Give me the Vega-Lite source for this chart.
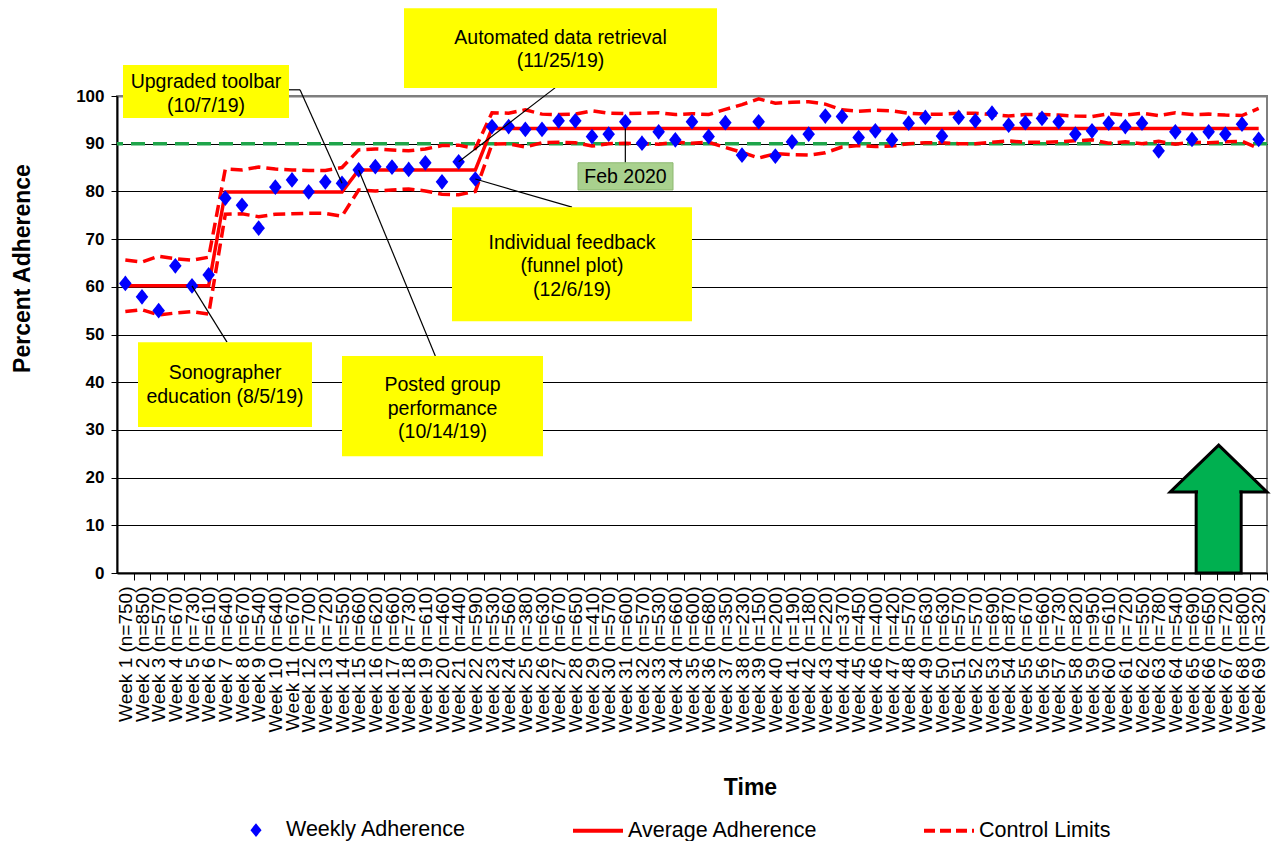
{
  "$schema": "https://vega.github.io/schema/vega-lite/v6.json",
  "width": 1150,
  "height": 477,
  "autosize": {"type": "none"},
  "padding": {"left": 117, "top": 96, "right": 4, "bottom": 268},
  "background": "white",
  "config": {
    "font": "Liberation Sans",
    "view": {"stroke": "#7f7f7f", "strokeWidth": 2}
  },
  "datasets": {
    "weeks": [
      {"week": 1, "n": 750, "adh": 60.7, "avg": 60.2, "ucl": 65.6, "lcl": 54.8},
      {"week": 2, "n": 850, "adh": 57.9, "avg": 60.2, "ucl": 65.2, "lcl": 55.2},
      {"week": 3, "n": 570, "adh": 55.0, "avg": 60.2, "ucl": 66.4, "lcl": 54.1},
      {"week": 4, "n": 670, "adh": 64.4, "avg": 60.2, "ucl": 65.9, "lcl": 54.5},
      {"week": 5, "n": 730, "adh": 60.2, "avg": 60.2, "ucl": 65.6, "lcl": 54.8},
      {"week": 6, "n": 610, "adh": 62.5, "avg": 60.2, "ucl": 66.2, "lcl": 54.3},
      {"week": 7, "n": 640, "adh": 78.6, "avg": 79.9, "ucl": 84.7, "lcl": 75.2},
      {"week": 8, "n": 670, "adh": 77.1, "avg": 79.9, "ucl": 84.5, "lcl": 75.3},
      {"week": 9, "n": 540, "adh": 72.3, "avg": 79.9, "ucl": 85.1, "lcl": 74.7},
      {"week": 10, "n": 640, "adh": 80.9, "avg": 79.9, "ucl": 84.7, "lcl": 75.2},
      {"week": 11, "n": 670, "adh": 82.4, "avg": 79.9, "ucl": 84.5, "lcl": 75.3},
      {"week": 12, "n": 700, "adh": 79.9, "avg": 79.9, "ucl": 84.4, "lcl": 75.4},
      {"week": 13, "n": 720, "adh": 82.0, "avg": 79.9, "ucl": 84.4, "lcl": 75.4},
      {"week": 14, "n": 550, "adh": 81.7, "avg": 79.9, "ucl": 85.0, "lcl": 74.8},
      {"week": 15, "n": 660, "adh": 84.5, "avg": 84.5, "ucl": 88.7, "lcl": 80.3},
      {"week": 16, "n": 620, "adh": 85.2, "avg": 84.5, "ucl": 88.9, "lcl": 80.1},
      {"week": 17, "n": 660, "adh": 85.1, "avg": 84.5, "ucl": 88.7, "lcl": 80.3},
      {"week": 18, "n": 730, "adh": 84.6, "avg": 84.5, "ucl": 88.5, "lcl": 80.5},
      {"week": 19, "n": 610, "adh": 86.0, "avg": 84.5, "ucl": 88.9, "lcl": 80.1},
      {"week": 20, "n": 460, "adh": 82.0, "avg": 84.5, "ucl": 89.6, "lcl": 79.4},
      {"week": 21, "n": 440, "adh": 86.2, "avg": 84.5, "ucl": 89.7, "lcl": 79.3},
      {"week": 22, "n": 590, "adh": 82.6, "avg": 84.5, "ucl": 89.0, "lcl": 80.0},
      {"week": 23, "n": 530, "adh": 93.6, "avg": 93.2, "ucl": 96.5, "lcl": 89.9},
      {"week": 24, "n": 560, "adh": 93.6, "avg": 93.2, "ucl": 96.4, "lcl": 90.0},
      {"week": 25, "n": 380, "adh": 93.0, "avg": 93.2, "ucl": 97.1, "lcl": 89.3},
      {"week": 26, "n": 630, "adh": 93.0, "avg": 93.2, "ucl": 96.2, "lcl": 90.2},
      {"week": 27, "n": 670, "adh": 94.8, "avg": 93.2, "ucl": 96.1, "lcl": 90.3},
      {"week": 28, "n": 650, "adh": 94.8, "avg": 93.2, "ucl": 96.2, "lcl": 90.2},
      {"week": 29, "n": 410, "adh": 91.5, "avg": 93.2, "ucl": 96.9, "lcl": 89.5},
      {"week": 30, "n": 570, "adh": 92.0, "avg": 93.2, "ucl": 96.4, "lcl": 90.0},
      {"week": 31, "n": 600, "adh": 94.6, "avg": 93.2, "ucl": 96.3, "lcl": 90.1},
      {"week": 32, "n": 570, "adh": 90.1, "avg": 93.2, "ucl": 96.4, "lcl": 90.0},
      {"week": 33, "n": 530, "adh": 92.5, "avg": 93.2, "ucl": 96.5, "lcl": 89.9},
      {"week": 34, "n": 660, "adh": 90.8, "avg": 93.2, "ucl": 96.1, "lcl": 90.3},
      {"week": 35, "n": 600, "adh": 94.6, "avg": 93.2, "ucl": 96.3, "lcl": 90.1},
      {"week": 36, "n": 680, "adh": 91.5, "avg": 93.2, "ucl": 96.1, "lcl": 90.3},
      {"week": 37, "n": 350, "adh": 94.4, "avg": 93.2, "ucl": 97.2, "lcl": 89.2},
      {"week": 38, "n": 230, "adh": 87.6, "avg": 93.2, "ucl": 98.2, "lcl": 88.2},
      {"week": 39, "n": 150, "adh": 94.6, "avg": 93.2, "ucl": 99.4, "lcl": 87.0},
      {"week": 40, "n": 200, "adh": 87.4, "avg": 93.2, "ucl": 98.5, "lcl": 87.9},
      {"week": 41, "n": 190, "adh": 90.4, "avg": 93.2, "ucl": 98.7, "lcl": 87.7},
      {"week": 42, "n": 180, "adh": 92.0, "avg": 93.2, "ucl": 98.8, "lcl": 87.6},
      {"week": 43, "n": 220, "adh": 95.8, "avg": 93.2, "ucl": 98.3, "lcl": 88.1},
      {"week": 44, "n": 370, "adh": 95.7, "avg": 93.2, "ucl": 97.1, "lcl": 89.3},
      {"week": 45, "n": 450, "adh": 91.3, "avg": 93.2, "ucl": 96.8, "lcl": 89.6},
      {"week": 46, "n": 400, "adh": 92.7, "avg": 93.2, "ucl": 97.0, "lcl": 89.4},
      {"week": 47, "n": 420, "adh": 90.8, "avg": 93.2, "ucl": 96.9, "lcl": 89.5},
      {"week": 48, "n": 570, "adh": 94.3, "avg": 93.2, "ucl": 96.4, "lcl": 90.0},
      {"week": 49, "n": 630, "adh": 95.5, "avg": 93.2, "ucl": 96.2, "lcl": 90.2},
      {"week": 50, "n": 630, "adh": 91.6, "avg": 93.2, "ucl": 96.2, "lcl": 90.2},
      {"week": 51, "n": 570, "adh": 95.5, "avg": 93.2, "ucl": 96.4, "lcl": 90.0},
      {"week": 52, "n": 570, "adh": 94.8, "avg": 93.2, "ucl": 96.4, "lcl": 90.0},
      {"week": 53, "n": 690, "adh": 96.4, "avg": 93.2, "ucl": 96.1, "lcl": 90.3},
      {"week": 54, "n": 870, "adh": 93.9, "avg": 93.2, "ucl": 95.8, "lcl": 90.6},
      {"week": 55, "n": 670, "adh": 94.4, "avg": 93.2, "ucl": 96.1, "lcl": 90.3},
      {"week": 56, "n": 660, "adh": 95.3, "avg": 93.2, "ucl": 96.1, "lcl": 90.3},
      {"week": 57, "n": 730, "adh": 94.6, "avg": 93.2, "ucl": 96.0, "lcl": 90.4},
      {"week": 58, "n": 820, "adh": 92.0, "avg": 93.2, "ucl": 95.8, "lcl": 90.6},
      {"week": 59, "n": 950, "adh": 92.7, "avg": 93.2, "ucl": 95.7, "lcl": 90.8},
      {"week": 60, "n": 610, "adh": 94.3, "avg": 93.2, "ucl": 96.3, "lcl": 90.1},
      {"week": 61, "n": 720, "adh": 93.6, "avg": 93.2, "ucl": 96.0, "lcl": 90.4},
      {"week": 62, "n": 550, "adh": 94.3, "avg": 93.2, "ucl": 96.4, "lcl": 90.0},
      {"week": 63, "n": 780, "adh": 88.5, "avg": 93.2, "ucl": 95.9, "lcl": 90.5},
      {"week": 64, "n": 540, "adh": 92.5, "avg": 93.2, "ucl": 96.5, "lcl": 89.9},
      {"week": 65, "n": 690, "adh": 90.9, "avg": 93.2, "ucl": 96.1, "lcl": 90.3},
      {"week": 66, "n": 650, "adh": 92.5, "avg": 93.2, "ucl": 96.2, "lcl": 90.2},
      {"week": 67, "n": 720, "adh": 92.0, "avg": 93.2, "ucl": 96.0, "lcl": 90.4},
      {"week": 68, "n": 800, "adh": 94.1, "avg": 93.2, "ucl": 95.9, "lcl": 90.5},
      {"week": 69, "n": 320, "adh": 90.9, "avg": 93.2, "ucl": 97.4, "lcl": 89.0}
    ],
    "boxes": [
      {"name": "Upgraded", "bx1": 0.86, "bx2": 10.82, "by1": 95.4, "by2": 106.5},
      {"name": "Automated", "bx1": 17.72, "bx2": 36.5, "by1": 101.7, "by2": 118.4},
      {"name": "Individual", "bx1": 20.6, "bx2": 35.0, "by1": 52.8, "by2": 76.7},
      {"name": "Sonographer", "bx1": 1.76, "bx2": 12.2, "by1": 30.6, "by2": 48.4},
      {"name": "Posted", "bx1": 14.0, "bx2": 26.06, "by1": 24.5, "by2": 45.5}
    ],
    "febbox": [
      {"name": "Feb", "bx1": 28.16, "bx2": 33.86, "by1": 80.3, "by2": 86.0}
    ],
    "labels": [
      {"tx": 5.84, "ty": 102.9, "label": "Upgraded  toolbar\n(10/7/19)"},
      {"tx": 27.11, "ty": 112.2, "label": "Automated data retrieval\n(11/25/19)"},
      {"tx": 27.8, "ty": 69.2, "label": "Individual  feedback\n(funnel plot)\n(12/6/19)"},
      {"tx": 6.98, "ty": 41.9, "label": "Sonographer\neducation  (8/5/19)"},
      {"tx": 20.03, "ty": 39.4, "label": "Posted group\nperformance\n(10/14/19)"},
      {"tx": 31.01, "ty": 83.1, "label": "Feb 2020"}
    ],
    "callouts": [
      {"x1": 7.1, "y1": 48.4, "x2": 5.0, "y2": 60.2},
      {"x1": 10.82, "y1": 101.3, "x2": 11.48, "y2": 101.3},
      {"x1": 11.48, "y1": 101.3, "x2": 14.0, "y2": 81.7},
      {"x1": 19.6, "y1": 45.5, "x2": 15.0, "y2": 84.5},
      {"x1": 26.78, "y1": 101.7, "x2": 21.0, "y2": 86.2},
      {"x1": 27.8, "y1": 76.7, "x2": 22.0, "y2": 82.6},
      {"x1": 31.0, "y1": 86.0, "x2": 31.0, "y2": 93.2}
    ],
    "arrowhead": [
      {"ax": 63.7, "top": 17.0, "bottom": 17.0},
      {"ax": 66.6, "top": 26.8, "bottom": 17.0},
      {"ax": 69.5, "top": 17.0, "bottom": 17.0}
    ],
    "shaft": [
      {"sx1": 65.25, "sx2": 67.95, "sy1": 0.0, "sy2": 17.0}
    ],
    "shaftjoin": [
      {"sx1": 65.36, "sx2": 67.84, "sy1": 16.3, "sy2": 17.5}
    ]
  },
  "layer": [
    {
      "data": {"values": [{"target": 90}]},
      "mark": {"type": "rule", "color": "#1fa54a", "strokeWidth": 3.5, "strokeDash": [14, 8]},
      "encoding": {
        "y": {
          "field": "target", "type": "quantitative",
          "scale": {"domain": [0, 100], "nice": false},
          "axis": {
            "values": [0, 10, 20, 30, 40, 50, 60, 70, 80, 90, 100],
            "labelFontSize": 17, "labelFontWeight": "bold", "labelColor": "black", "labelPadding": 7,
            "tickSize": 6, "tickColor": "black", "tickWidth": 1,
            "domainColor": "black", "domainWidth": 2,
            "grid": true,
            "gridColor": {"condition": {"test": "datum.value === 100", "value": "#7f7f7f"}, "value": "black"},
            "gridWidth": {"condition": {"test": "datum.value === 100", "value": 2}, "value": 1},
            "title": "Percent Adherence", "titleFontSize": 23, "titleFontWeight": "bold", "titleColor": "black",
            "titleAngle": 270, "titleX": -95, "titleY": 172, "titleAlign": "center", "titleBaseline": "middle"
          }
        }
      }
    },
    {
      "data": {"name": "weeks"},
      "mark": {"type": "line", "color": "#ff0000", "strokeWidth": 3.5, "strokeDash": [12, 6]},
      "encoding": {
        "x": {
          "field": "week", "type": "quantitative",
          "scale": {"domain": [0.5, 69.5], "nice": false, "zero": false},
          "axis": {
            "values": [1,2,3,4,5,6,7,8,9,10,11,12,13,14,15,16,17,18,19,20,21,22,23,24,25,26,27,28,29,30,31,32,33,34,35,36,37,38,39,40,41,42,43,44,45,46,47,48,49,50,51,52,53,54,55,56,57,58,59,60,61,62,63,64,65,66,67,68,69],
            "tickCount": 500,
            "labelExpr": "'Week ' + datum.value + ' (n=' + [750,850,570,670,730,610,640,670,540,640,670,700,720,550,660,620,660,730,610,460,440,590,530,560,380,630,670,650,410,570,600,570,530,660,600,680,350,230,150,200,190,180,220,370,450,400,420,570,630,630,570,570,690,870,670,660,730,820,950,610,720,550,780,540,690,650,720,800,320][datum.value - 1] + ')'",
            "labelAngle": 270, "labelAlign": "right", "labelBaseline": "middle",
            "labelFontSize": 19, "labelColor": "black", "labelPadding": 6,
            "labelOverlap": false, "labelFlush": false,
            "tickOffset": 8.33, "labelOffset": -8.33,
            "tickSize": 7, "tickColor": "black", "tickWidth": 1,
            "domainColor": "black", "domainWidth": 2,
            "grid": false,
            "title": "Time", "titleFontSize": 23, "titleFontWeight": "bold", "titleColor": "black",
            "titleX": 633, "titleY": 214, "titleAlign": "center", "titleBaseline": "middle"
          }
        },
        "y": {"field": "ucl", "type": "quantitative", "scale": {"domain": [0, 100], "nice": false}}
      }
    },
    {
      "data": {"name": "weeks"},
      "mark": {"type": "line", "color": "#ff0000", "strokeWidth": 3.5, "strokeDash": [12, 6]},
      "encoding": {
        "x": {"field": "week", "type": "quantitative", "scale": {"domain": [0.5, 69.5], "nice": false, "zero": false}},
        "y": {"field": "lcl", "type": "quantitative", "scale": {"domain": [0, 100], "nice": false}}
      }
    },
    {
      "data": {"name": "weeks"},
      "mark": {"type": "line", "color": "#ff0000", "strokeWidth": 3.5},
      "encoding": {
        "x": {"field": "week", "type": "quantitative", "scale": {"domain": [0.5, 69.5], "nice": false, "zero": false}},
        "y": {"field": "avg", "type": "quantitative", "scale": {"domain": [0, 100], "nice": false}}
      }
    },
    {
      "data": {"name": "weeks"},
      "mark": {"type": "point", "filled": false, "fill": "#0000ff", "fillOpacity": 1, "size": 6950, "opacity": 1},
      "encoding": {
        "x": {"field": "week", "type": "quantitative", "scale": {"domain": [0.5, 69.5], "nice": false, "zero": false}},
        "y": {"field": "adh", "type": "quantitative", "scale": {"domain": [0, 100], "nice": false}},
        "color": {
          "datum": "Weekly Adherence",
          "scale": {"domain": ["Weekly Adherence", "Average Adherence", "Control Limits"], "range": ["#0000ff", "#ff0000", "#ff0000"]},
          "legend": {
            "orient": "none", "legendX": 112, "legendY": 707,
            "direction": "horizontal", "title": null,
            "columnPadding": 98,
            "symbolSize": 2500, "symbolStrokeWidth": 4,
            "labelFontSize": 21.5, "labelColor": "black", "labelOffset": 3, "labelLimit": 400
          }
        },
        "shape": {
          "datum": "Weekly Adherence",
          "scale": {"domain": ["Weekly Adherence", "Average Adherence", "Control Limits"], "range": ["M0,-0.15L0.12,0L0,0.15L-0.12,0Z", "M-1,0H1", "M-1,0H1"]}
        },
        "strokeDash": {
          "datum": "Weekly Adherence",
          "scale": {"domain": ["Weekly Adherence", "Average Adherence", "Control Limits"], "range": [[1, 0], [1, 0], [11, 5]]}
        }
      }
    },
    {
      "data": {"name": "callouts"},
      "mark": {"type": "rule", "color": "black", "strokeWidth": 1.2},
      "encoding": {
        "x": {"field": "x1", "type": "quantitative", "scale": {"domain": [0.5, 69.5], "nice": false, "zero": false}},
        "x2": {"field": "x2"},
        "y": {"field": "y1", "type": "quantitative", "scale": {"domain": [0, 100], "nice": false}},
        "y2": {"field": "y2"}
      }
    },
    {
      "data": {"name": "boxes"},
      "mark": {"type": "rect", "fill": "#ffff00"},
      "encoding": {
        "x": {"field": "bx1", "type": "quantitative", "scale": {"domain": [0.5, 69.5], "nice": false, "zero": false}},
        "x2": {"field": "bx2"},
        "y": {"field": "by1", "type": "quantitative", "scale": {"domain": [0, 100], "nice": false}},
        "y2": {"field": "by2"}
      }
    },
    {
      "data": {"name": "febbox"},
      "mark": {"type": "rect", "fill": "#a9d18e", "stroke": "#8db870", "strokeWidth": 1},
      "encoding": {
        "x": {"field": "bx1", "type": "quantitative", "scale": {"domain": [0.5, 69.5], "nice": false, "zero": false}},
        "x2": {"field": "bx2"},
        "y": {"field": "by1", "type": "quantitative", "scale": {"domain": [0, 100], "nice": false}},
        "y2": {"field": "by2"}
      }
    },
    {
      "data": {"name": "labels"},
      "mark": {"type": "text", "fontSize": 19.5, "lineHeight": 23.5, "lineBreak": "\n", "align": "center", "baseline": "middle", "color": "black"},
      "encoding": {
        "x": {"field": "tx", "type": "quantitative", "scale": {"domain": [0.5, 69.5], "nice": false, "zero": false}},
        "y": {"field": "ty", "type": "quantitative", "scale": {"domain": [0, 100], "nice": false}},
        "text": {"field": "label"}
      }
    },
    {
      "data": {"name": "arrowhead"},
      "mark": {"type": "area", "fill": "#00b050", "stroke": "black", "strokeWidth": 3, "strokeJoin": "miter", "interpolate": "linear", "opacity": 1},
      "encoding": {
        "x": {"field": "ax", "type": "quantitative", "scale": {"domain": [0.5, 69.5], "nice": false, "zero": false}},
        "y": {"field": "top", "type": "quantitative", "scale": {"domain": [0, 100], "nice": false}, "stack": null},
        "y2": {"field": "bottom"}
      }
    },
    {
      "data": {"name": "shaft"},
      "mark": {"type": "rect", "fill": "#00b050", "stroke": "black", "strokeWidth": 3},
      "encoding": {
        "x": {"field": "sx1", "type": "quantitative", "scale": {"domain": [0.5, 69.5], "nice": false, "zero": false}},
        "x2": {"field": "sx2"},
        "y": {"field": "sy1", "type": "quantitative", "scale": {"domain": [0, 100], "nice": false}},
        "y2": {"field": "sy2"}
      }
    },
    {
      "data": {"name": "shaftjoin"},
      "mark": {"type": "rect", "fill": "#00b050"},
      "encoding": {
        "x": {"field": "sx1", "type": "quantitative", "scale": {"domain": [0.5, 69.5], "nice": false, "zero": false}},
        "x2": {"field": "sx2"},
        "y": {"field": "sy1", "type": "quantitative", "scale": {"domain": [0, 100], "nice": false}},
        "y2": {"field": "sy2"}
      }
    }
  ]
}
